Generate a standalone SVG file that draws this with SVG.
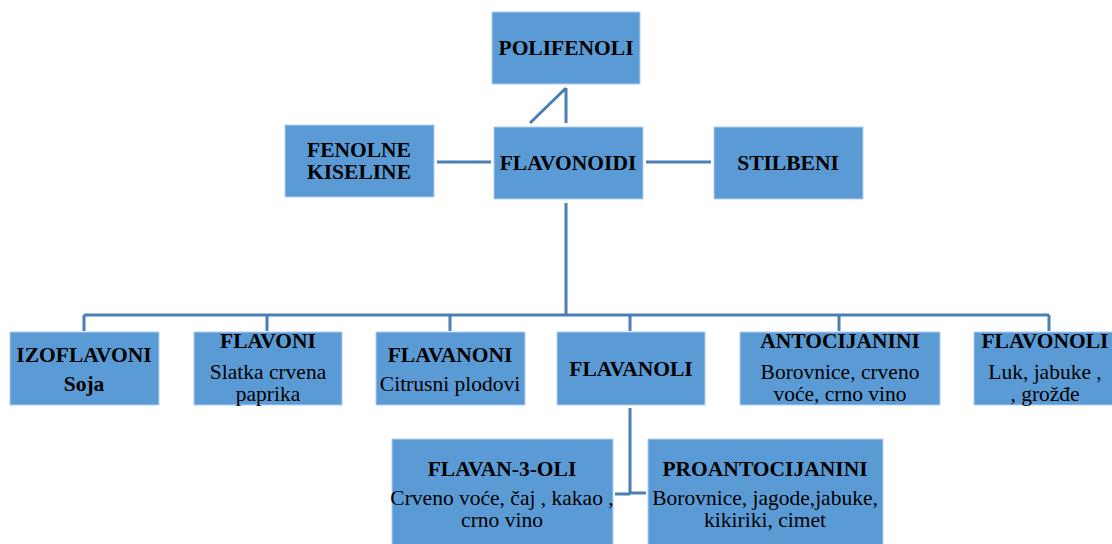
<svg xmlns="http://www.w3.org/2000/svg" width="1112" height="544" viewBox="0 0 1112 544">
<style>
.box{fill:#5b9bd5;stroke:#b4cfee;stroke-width:1}
.t{font-family:"Liberation Serif","Times New Roman",serif;font-size:21.5px;fill:#000;text-anchor:middle}
.b{font-weight:bold}
.c{fill:none;stroke:#4a7fb5;stroke-width:3}
</style>
<rect width="1112" height="544" fill="#fff"/>
<g id="connectors">
<path class="c" d="M566 88V123M566 88L530 123"/>
<path class="c" d="M437 162H491M646 162H711"/>
<path class="c" d="M566 203V315M84 315H1049M84 315V331M267 315V331M450 315V331M630 315V331M839 315V331M1049 315V331"/>
<path class="c" d="M630 408V494M630 494H615M630 493H646"/>
</g>
<g id="polifenoli"><rect class="box" x="492" y="12" width="148" height="72"/><text class="t b" x="566" y="55">POLIFENOLI</text></g>
<g id="fenolne"><rect class="box" x="285" y="125" width="149" height="72"/><text class="t b" x="359" y="157">FENOLNE</text><text class="t b" x="359" y="179">KISELINE</text></g>
<g id="flavonoidi"><rect class="box" x="494" y="127" width="149" height="72"/><text class="t b" x="568" y="170">FLAVONOIDI</text></g>
<g id="stilbeni"><rect class="box" x="714" y="127" width="149" height="72"/><text class="t b" x="788" y="170">STILBENI</text></g>
<g id="izoflavoni"><rect class="box" x="10" y="332" width="149" height="73"/><text class="t b" x="84" y="362">IZOFLAVONI</text><text class="t b" x="84" y="391">Soja</text></g>
<g id="flavoni"><rect class="box" x="194" y="332" width="148" height="73"/><text class="t b" x="268" y="348">FLAVONI</text><text class="t" x="268" y="379">Slatka crvena</text><text class="t" x="268" y="401">paprika</text></g>
<g id="flavanoni"><rect class="box" x="376" y="332" width="149" height="73"/><text class="t b" x="450" y="362">FLAVANONI</text><text class="t" x="450" y="391">Citrusni plodovi</text></g>
<g id="flavanoli"><rect class="box" x="557" y="332" width="148" height="73"/><text class="t b" x="631" y="376">FLAVANOLI</text></g>
<g id="antocijanini"><rect class="box" x="740" y="332" width="200" height="73"/><text class="t b" x="840" y="348">ANTOCIJANINI</text><text class="t" x="840" y="379">Borovnice, crveno</text><text class="t" x="840" y="401">voće, crno vino</text></g>
<g id="flavonoli"><rect class="box" x="974" y="332" width="140" height="73"/><text class="t b" x="1045" y="348">FLAVONOLI</text><text class="t" x="1045" y="379">Luk, jabuke ,</text><text class="t" x="1045" y="401">, grožđe</text></g>
<g id="flavan3oli"><rect class="box" x="392" y="439" width="221" height="106"/><text class="t b" x="502" y="476">FLAVAN-3-OLI</text><text class="t" x="502" y="505">Crveno voće, čaj , kakao ,</text><text class="t" x="502" y="527">crno vino</text></g>
<g id="proantocijanini"><rect class="box" x="648" y="439" width="235" height="106"/><text class="t b" x="765" y="476">PROANTOCIJANINI</text><text class="t" x="765" y="505">Borovnice, jagode,jabuke,</text><text class="t" x="765" y="527">kikiriki, cimet</text></g>
</svg>
